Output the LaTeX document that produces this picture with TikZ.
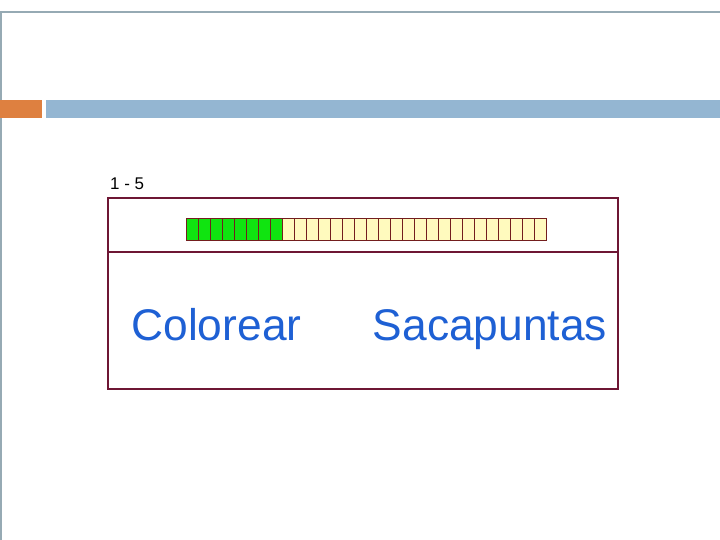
\documentclass[tikz,border=0pt]{standalone}
\usepackage{fontspec}
\setmainfont{Liberation Sans}
\definecolor{frameline}{RGB}{150,170,180}
\definecolor{orangebar}{RGB}{222,128,64}
\definecolor{bluebar}{RGB}{148,182,210}
\definecolor{boxline}{RGB}{110,22,52}
\definecolor{cellline}{RGB}{115,30,30}
\definecolor{cellgreen}{RGB}{16,228,16}
\definecolor{cellyellow}{RGB}{255,250,190}
\definecolor{textblue}{RGB}{30,96,212}
\tikzset{
  cell/.style={draw=cellline, line width=0.9bp, minimum width=12.03bp, minimum height=22bp, inner sep=0pt, outer sep=0pt, anchor=north west},
  bigtext/.style={text=textblue, font=\fontsize{44.5}{52}\selectfont, inner sep=0pt},
}
\begin{document}
\begin{tikzpicture}[x=1bp,y=-1bp]
\useasboundingbox (0,0) rectangle (720,540);
% slide frame
\draw[frameline, line width=1.2bp] (1,540) -- (1,12) -- (720,12);
\fill[orangebar] (0,100) rectangle (42,118);
\fill[bluebar] (46,100) rectangle (720,118);
% label
\node[anchor=base west, inner sep=0pt, font=\fontsize{17}{20}\selectfont] (lbl) at (110,189.5) {1 - 5};
% outer box
\node[draw=boxline, line width=1.8bp, minimum width=510bp, minimum height=191bp, anchor=north west, inner sep=0pt, outer sep=0pt] (box) at (108,198) {};
\coordinate (dl) at (108,252);
\coordinate (dr) at (618,252);
\draw[boxline, line width=1.8bp] (dl) -- (dr);
% progress cells
\foreach \i in {0,...,29}{
  \pgfmathsetmacro{\xx}{186+\i*12.03}
  \ifnum\i<8
    \node[cell, fill=cellgreen] (c\i) at (\xx,218) {};
  \else
    \node[cell, fill=cellyellow] (c\i) at (\xx,218) {};
  \fi
}
% texts
\node[bigtext, anchor=base] (t1) at (216.5,340) {Colorear};
\node[bigtext, anchor=base] (t2) at (490,340) {Sacapuntas};
\end{tikzpicture}
\end{document}
